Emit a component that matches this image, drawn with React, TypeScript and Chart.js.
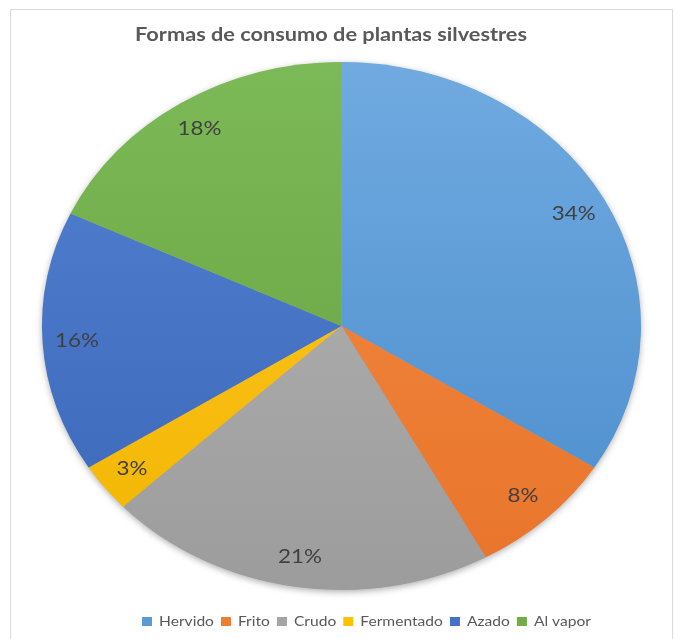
import React, { useEffect, useRef } from "react";
import { Chart, registerables } from "chart.js";

Chart.register(...registerables);

const titleText = "Formas de consumo de plantas silvestres";
const categories = ["Hervido", "Frito", "Crudo", "Fermentado", "Azado", "Al vapor"];
const values = [34, 8, 21, 3, 16, 18];
const baseColors = ["#5b9bd5", "#ed7d31", "#a5a5a5", "#ffc000", "#4472c4", "#70ad47"];
const topColors = ["#70aae0", "#f58c45", "#b6b6b6", "#ffc828", "#5482d2", "#7cb957"];
const bottomColors = ["#4a8ccc", "#e8742a", "#9c9c9c", "#f2b500", "#3a66b8", "#65a23d"];

const W = 676;
const H = 639;
const SX = 1.1345; // horizontal stretch of the pie (ellipse)

function pct(v: number) {
  const total = values.reduce((a, b) => a + b, 0);
  return Math.round((v / total) * 100) + "%";
}

const stretchPlugin = {
  id: "stretchPie",
  beforeDatasetsDraw(chart: any) {
    const arc = chart.getDatasetMeta(0).data[0];
    if (!arc) return;
    const { x, y, outerRadius } = arc.getProps(["x", "y", "outerRadius"], true);
    const ctx = chart.ctx;
    ctx.save();
    ctx.translate(x, y);
    ctx.scale(SX, 1);
    ctx.translate(-x, -y);
    ctx.save();
    ctx.shadowColor = "rgba(0,0,0,0.35)";
    ctx.shadowBlur = 7;
    ctx.shadowOffsetY = 2;
    ctx.beginPath();
    ctx.arc(x, y, outerRadius - 0.5, 0, Math.PI * 2);
    ctx.fillStyle = "#a0a0a0";
    ctx.fill();
    ctx.restore();
  },
  afterDatasetsDraw(chart: any) {
    const ctx = chart.ctx;
    ctx.restore();
    const meta = chart.getDatasetMeta(0);
    ctx.save();
    ctx.font = "19px Lato";
    ctx.fillStyle = "#404040";
    ctx.textAlign = "center";
    ctx.textBaseline = "middle";
    meta.data.forEach((el: any, i: number) => {
      const { x, y, startAngle, endAngle, outerRadius } = el.getProps(
        ["x", "y", "startAngle", "endAngle", "outerRadius"],
        true
      );
      const mid = (startAngle + endAngle) / 2;
      const r = outerRadius * 0.885;
      const px = x + Math.cos(mid) * r * SX;
      const py = y + Math.sin(mid) * r;
      ctx.save();
      ctx.translate(px, py);
      ctx.scale(1.18, 1);
      ctx.fillText(pct(values[i]), 0, 0);
      ctx.restore();
    });
    ctx.restore();
  },
  afterDraw(chart: any) {
    const ctx = chart.ctx;
    // Title
    ctx.save();
    ctx.font = "bold 18px Lato";
    ctx.fillStyle = "#595959";
    ctx.textAlign = "center";
    ctx.textBaseline = "middle";
    const tw = ctx.measureText(titleText).width;
    const ts = 392 / tw;
    ctx.translate(331, 35);
    ctx.scale(ts, 1);
    ctx.fillText(titleText, 0, 0);
    ctx.restore();

    // Legend
    ctx.save();
    ctx.font = "13.5px Lato";
    ctx.textBaseline = "middle";
    ctx.textAlign = "left";
    const widths = categories.map((c) => ctx.measureText(c).width);
    const sum = widths.reduce((a, b) => a + b, 0);
    const ls = 312 / sum;
    let cx = 142;
    const cy = 621.5;
    categories.forEach((c, i) => {
      ctx.fillStyle = baseColors[i];
      ctx.fillRect(cx, cy - 4.5, 10, 9);
      ctx.fillStyle = "#595959";
      ctx.save();
      ctx.translate(cx + 17, cy);
      ctx.scale(ls, 1);
      ctx.fillText(c, 0, 0);
      ctx.restore();
      cx = cx + 17 + widths[i] * ls + 7;
    });
    ctx.restore();
  },
};

export default function App() {
  const ref = useRef<HTMLCanvasElement | null>(null);

  useEffect(() => {
    if (!ref.current) return;
    const chart = new Chart(ref.current, {
      type: "pie",
      data: {
        labels: categories,
        datasets: [
          {
            data: values,
            borderWidth: 0,
            clip: false as any,
            backgroundColor: (c: any) => {
              const i = c.dataIndex;
              const area = c.chart.chartArea;
              if (!area) return baseColors[i];
              const g = c.chart.ctx.createLinearGradient(0, area.top, 0, area.bottom);
              g.addColorStop(0, topColors[i]);
              g.addColorStop(1, bottomColors[i]);
              return g;
            },
          },
        ],
      },
      options: {
        responsive: false,
        animation: false,
        devicePixelRatio: 1,
        layout: { padding: { top: 62, bottom: 49, left: 7, right: 0 } },
        plugins: {
          legend: { display: false },
          title: { display: false },
          tooltip: { enabled: false },
        },
      },
      plugins: [stretchPlugin],
    });
    return () => chart.destroy();
  }, []);

  return (
    <div
      style={{
        position: "fixed",
        left: 0,
        top: 0,
        width: W,
        height: H,
        overflow: "hidden",
        background: "#ffffff",
      }}
    >
      <div
        style={{
          position: "absolute",
          left: 10,
          top: 9,
          width: 663,
          height: 700,
          border: "1px solid #d9d9d9",
          boxSizing: "border-box",
        }}
      />
      <canvas
        ref={ref}
        width={W}
        height={H}
        style={{ position: "absolute", left: 0, top: 0, width: W, height: H }}
      />
    </div>
  );
}
